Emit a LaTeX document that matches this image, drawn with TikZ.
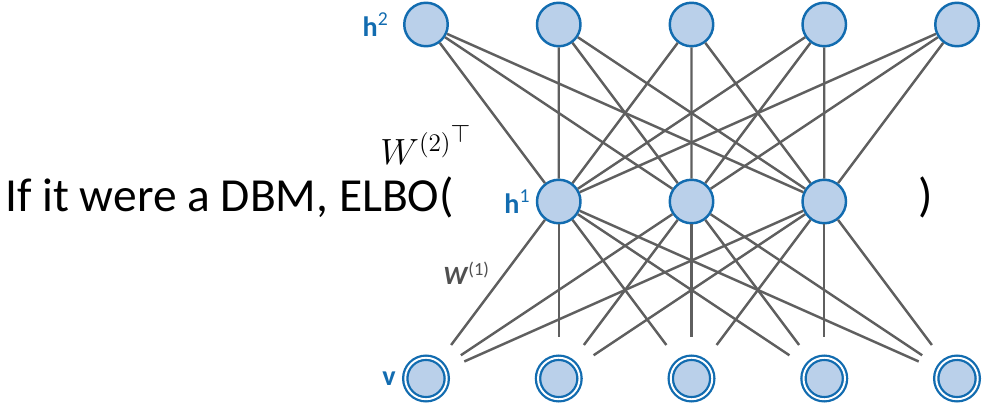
\documentclass[tikz,border=0pt]{standalone}
\usepackage{fontspec}
\setmainfont{Carlito}
\usetikzlibrary{positioning}
\definecolor{unitblue}{RGB}{18,108,176}
\definecolor{unitfill}{RGB}{186,208,234}
\definecolor{wiregray}{RGB}{95,95,95}
\definecolor{weightgray}{RGB}{80,80,80}
\tikzset{
  hidden/.style={circle, draw=unitblue, fill=unitfill, line width=1.4pt, minimum size=0.87cm, inner sep=0pt},
  visible/.style={circle, draw=unitblue, double=white, double distance=1.1pt, fill=unitfill, line width=1.3pt, minimum size=0.83cm, inner sep=0pt},
  wire/.style={draw=wiregray, line width=1.4pt},
  cutwire/.style={wire, shorten >=0.4cm},
  layerlabel/.style={text=unitblue, font=\fontsize{16}{18}\selectfont\bfseries, inner sep=0pt}
}
\begin{document}
\begin{tikzpicture}
    \useasboundingbox (0,0) rectangle (19.72,8.08);
    % top hidden layer
    \node[hidden] (ta) at (8.52,7.59) {};
    \node[hidden] (tb) at (11.175,7.59) {};
    \node[hidden] (tc) at (13.83,7.59) {};
    \node[hidden] (td) at (16.485,7.59) {};
    \node[hidden] (te) at (19.14,7.59) {};
    % first hidden layer
    \node[hidden] (ma) at (11.175,4.05) {};
    \node[hidden] (mb) at (13.83,4.05) {};
    \node[hidden] (mc) at (16.485,4.05) {};
    % visible layer
    \node[visible] (va) at (8.52,0.51) {};
    \node[visible] (vb) at (11.175,0.51) {};
    \node[visible] (vc) at (13.83,0.51) {};
    \node[visible] (vd) at (16.485,0.51) {};
    \node[visible] (ve) at (19.14,0.51) {};
    % weights between h2 and h1
    \draw[wire] (ta) -- (ma) (ta) -- (mb) (ta) -- (mc);
    \draw[wire] (tb) -- (ma) (tb) -- (mb) (tb) -- (mc);
    \draw[wire] (tc) -- (ma) (tc) -- (mb) (tc) -- (mc);
    \draw[wire] (td) -- (ma) (td) -- (mb) (td) -- (mc);
    \draw[wire] (te) -- (ma) (te) -- (mb) (te) -- (mc);
    % weights between h1 and v, stopping short
    \draw[cutwire] (ma) -- (va); \draw[cutwire] (ma) -- (vb); \draw[cutwire] (ma) -- (vc); \draw[cutwire] (ma) -- (vd); \draw[cutwire] (ma) -- (ve);
    \draw[cutwire] (mb) -- (va); \draw[cutwire] (mb) -- (vb); \draw[cutwire] (mb) -- (vc); \draw[cutwire] (mb) -- (vd); \draw[cutwire] (mb) -- (ve);
    \draw[cutwire] (mc) -- (va); \draw[cutwire] (mc) -- (vb); \draw[cutwire] (mc) -- (vc); \draw[cutwire] (mc) -- (vd); \draw[cutwire] (mc) -- (ve);
    % layer labels
    \node[layerlabel, left=0.28cm of ta] (htwo) {h\textsuperscript{\mdseries 2}};
    \node[layerlabel, left=0.1cm of ma] (hone) {h\textsuperscript{\mdseries 1}};
    \node[layerlabel, left=0.16cm of va] (vlab) {v};
    \node[text=weightgray, font=\fontsize{15}{17}\selectfont, inner sep=0pt, anchor=base west] (wone) at (8.86,2.38) {\textbf{\textit{W}}\textsuperscript{(1)}};
    \node[font=\fontsize{22}{26}\selectfont, inner sep=0pt, anchor=base west] (wtwo) at (7.6,4.78) {$W^{(2)^{\scriptstyle\top}}$};
    % sentence
    \node[font=\fontsize{27}{32}\selectfont, inner sep=0pt, anchor=base west] (elbo) at (0.1,3.84) {If it were a DBM, ELBO(};
    \node[font=\fontsize{27}{32}\selectfont, inner sep=0pt, anchor=base west] (close) at (18.36,3.84) {)};
\end{tikzpicture}
\end{document}
